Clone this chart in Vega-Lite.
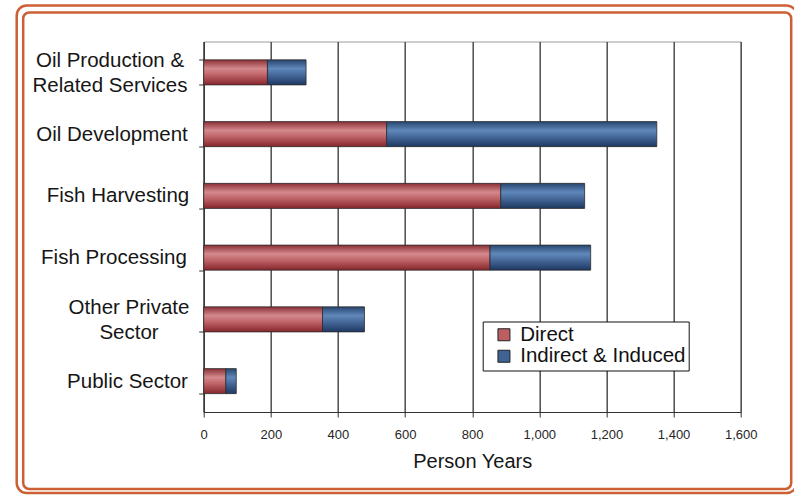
{
  "$schema": "https://vega.github.io/schema/vega-lite/v6.json",
  "width": 537,
  "height": 370.5,
  "autosize": "none",
  "padding": {"left": 203.7, "top": 41.5, "right": 53.3, "bottom": 83},
  "background": "white",
  "config": {
    "view": {"stroke": "#9a9a9a", "strokeWidth": 1},
    "font": "Liberation Sans"
  },
  "data": {
    "values": [
      {"sector": "Oil Production & Related Services", "part": "Direct", "years": 190},
      {"sector": "Oil Production & Related Services", "part": "Indirect & Induced", "years": 115},
      {"sector": "Oil Development", "part": "Direct", "years": 545},
      {"sector": "Oil Development", "part": "Indirect & Induced", "years": 805},
      {"sector": "Fish Harvesting", "part": "Direct", "years": 885},
      {"sector": "Fish Harvesting", "part": "Indirect & Induced", "years": 250},
      {"sector": "Fish Processing", "part": "Direct", "years": 853},
      {"sector": "Fish Processing", "part": "Indirect & Induced", "years": 300},
      {"sector": "Other Private Sector", "part": "Direct", "years": 354},
      {"sector": "Other Private Sector", "part": "Indirect & Induced", "years": 125},
      {"sector": "Public Sector", "part": "Direct", "years": 66},
      {"sector": "Public Sector", "part": "Indirect & Induced", "years": 31}
    ]
  },
  "transform": [
    {"stack": "years", "groupby": ["sector"], "sort": [{"field": "part", "order": "ascending"}], "as": ["start", "end"]}
  ],
  "layer": [
    {
      "data": {"values": [{}]},
      "mark": {
        "type": "rect",
        "fill": null,
        "stroke": "#cc5f33",
        "strokeWidth": 2.5,
        "cornerRadius": 10,
        "xOffset": -187,
        "x2Offset": 56,
        "yOffset": -36,
        "y2Offset": 81
      },
      "encoding": {
        "x": {"value": 0},
        "x2": {"value": "width"},
        "y": {"value": 0},
        "y2": {"value": "height"}
      }
    },
    {
      "data": {"values": [{}]},
      "mark": {
        "type": "rect",
        "fill": null,
        "stroke": "#cc5f33",
        "strokeWidth": 2.5,
        "cornerRadius": 6,
        "xOffset": -180.5,
        "x2Offset": 50.5,
        "yOffset": -29,
        "y2Offset": 77
      },
      "encoding": {
        "x": {"value": 0},
        "x2": {"value": "width"},
        "y": {"value": 0},
        "y2": {"value": "height"}
      }
    },
    {
      "transform": [{"filter": "datum.part == 'Direct'"}],
      "mark": {
        "type": "bar",
        "stroke": "#2b2b2b",
        "strokeWidth": 0.8,
        "fill": {"gradient": "linear", "x1": 0, "y1": 0, "x2": 0, "y2": 1, "stops": [
          {"offset": 0, "color": "#8a3036"},
          {"offset": 0.35, "color": "#d4898d"},
          {"offset": 0.6, "color": "#bf6469"},
          {"offset": 1, "color": "#86262c"}
        ]}
      },
      "encoding": {
        "y": {
          "field": "sector",
          "type": "nominal",
          "sort": ["Oil Production & Related Services", "Oil Development", "Fish Harvesting", "Fish Processing", "Other Private Sector", "Public Sector"],
          "scale": {"paddingInner": 0.595, "paddingOuter": 0.2975},
          "axis": {
            "title": null,
            "orient": "left",
            "domainColor": "#333333",
            "domainWidth": 1.2,
            "tickColor": "#333333",
            "tickSize": 5,
            "tickBand": "extent",
            "labelAlign": "center",
            "labelBaseline": "middle",
            "labelPadding": {
              "condition": [
                {"test": "datum.value == 'Oil Production & Related Services'", "value": 89.2},
                {"test": "datum.value == 'Oil Development'", "value": 87.2},
                {"test": "datum.value == 'Fish Harvesting'", "value": 81.2},
                {"test": "datum.value == 'Fish Processing'", "value": 85.2},
                {"test": "datum.value == 'Other Private Sector'", "value": 70.2}
              ],
              "value": 71.7
            },
            "labelOffset": {
              "condition": [
                {"test": "datum.value == 'Oil Production & Related Services'", "value": -12},
                {"test": "datum.value == 'Other Private Sector'", "value": -12}
              ],
              "value": 0
            },
            "labelFontSize": 20.5,
            "labelLineHeight": 25,
            "labelColor": "#161616",
            "labelLimit": 0,
            "grid": false,
            "labelExpr": "datum.label == 'Oil Production & Related Services' ? ['Oil Production &', 'Related Services'] : datum.label == 'Other Private Sector' ? ['Other Private', 'Sector'] : datum.label"
          }
        },
        "x": {
          "field": "start",
          "type": "quantitative",
          "scale": {"domain": [0, 1600], "nice": false},
          "axis": {
            "orient": "bottom",
            "values": [0, 200, 400, 600, 800, 1000, 1200, 1400, 1600],
            "format": ",.0f",
            "domainColor": "#333333",
            "domainWidth": 1.2,
            "tickColor": "#333333",
            "tickSize": 5,
            "labelFontSize": 13,
            "labelColor": "#262626",
            "labelPadding": 11,
            "labelFlush": false,
            "grid": true,
            "gridColor": "#4d4d4d",
            "gridWidth": 1.5,
            "title": "Person Years",
            "titleFontSize": 20,
            "titleFontWeight": "normal",
            "titleColor": "#161616",
            "titlePadding": 10
          }
        },
        "x2": {"field": "end"}
      }
    },
    {
      "transform": [{"filter": "datum.part == 'Indirect & Induced'"}],
      "mark": {
        "type": "bar",
        "stroke": "#2b2b2b",
        "strokeWidth": 0.8,
        "fill": {"gradient": "linear", "x1": 0, "y1": 0, "x2": 0, "y2": 1, "stops": [
          {"offset": 0, "color": "#27466f"},
          {"offset": 0.35, "color": "#6088ba"},
          {"offset": 0.6, "color": "#46699a"},
          {"offset": 1, "color": "#1d3862"}
        ]}
      },
      "encoding": {
        "y": {
          "field": "sector",
          "type": "nominal",
          "sort": ["Oil Production & Related Services", "Oil Development", "Fish Harvesting", "Fish Processing", "Other Private Sector", "Public Sector"],
          "scale": {"paddingInner": 0.595, "paddingOuter": 0.2975}
        },
        "x": {
          "field": "start",
          "type": "quantitative",
          "scale": {"domain": [0, 1600], "nice": false}
        },
        "x2": {"field": "end"}
      }
    },
    {
      "mark": {"type": "bar", "opacity": 0},
      "encoding": {
        "y": {
          "field": "sector",
          "type": "nominal",
          "sort": ["Oil Production & Related Services", "Oil Development", "Fish Harvesting", "Fish Processing", "Other Private Sector", "Public Sector"],
          "scale": {"paddingInner": 0.595, "paddingOuter": 0.2975}
        },
        "x": {
          "field": "start",
          "type": "quantitative",
          "scale": {"domain": [0, 1600], "nice": false}
        },
        "x2": {"field": "end"},
        "color": {
          "field": "part",
          "type": "nominal",
          "scale": {"domain": ["Direct", "Indirect & Induced"], "range": ["#bd5e63", "#3f6394"]},
          "legend": {
            "title": null,
            "orient": "none",
            "legendX": 279,
            "legendY": 280,
            "direction": "vertical",
            "fillColor": "white",
            "strokeColor": "#111111",
            "padding": 3,
            "symbolType": "square",
            "symbolSize": 144,
            "symbolStrokeColor": "#222222",
            "symbolStrokeWidth": 1,
            "symbolOpacity": 1,
            "symbolOffset": 8,
            "labelFontSize": 20.5,
            "labelColor": "#111111",
            "labelOffset": 6,
            "labelLimit": 0,
            "rowPadding": 0.5
          }
        }
      }
    }
  ]
}
